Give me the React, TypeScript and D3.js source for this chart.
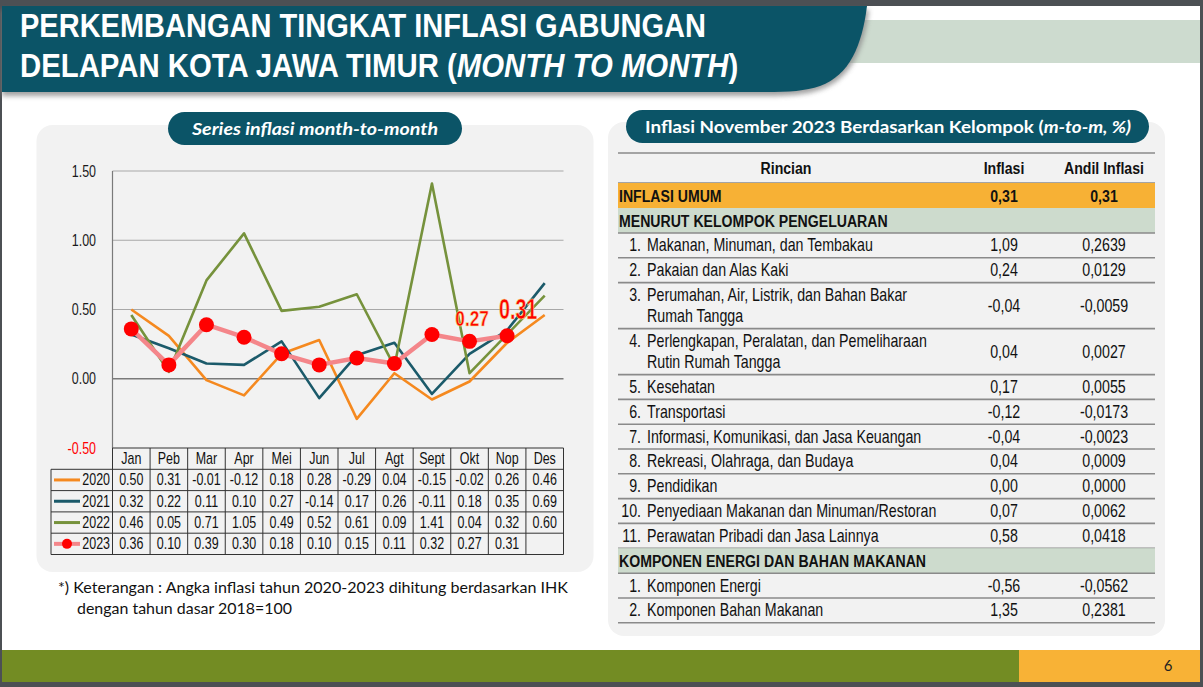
import * as d3 from 'd3';
import type { ReactNode } from 'react';

// ---- data ----
const months = ['Jan', 'Peb', 'Mar', 'Apr', 'Mei', 'Jun', 'Jul', 'Agt', 'Sept', 'Okt', 'Nop', 'Des'];
const years = ['2020', '2021', '2022', '2023'];
const infl2020 = [0.5, 0.31, -0.01, -0.12, 0.18, 0.28, -0.29, 0.04, -0.15, -0.02, 0.26, 0.46];
const infl2021 = [0.32, 0.22, 0.11, 0.1, 0.27, -0.14, 0.17, 0.26, -0.11, 0.18, 0.35, 0.69];
const infl2022 = [0.46, 0.05, 0.71, 1.05, 0.49, 0.52, 0.61, 0.09, 1.41, 0.04, 0.32, 0.6];
const infl2023 = [0.36, 0.1, 0.39, 0.3, 0.18, 0.1, 0.15, 0.11, 0.32, 0.27, 0.31];
const yTicks = [1.5, 1.0, 0.5, 0.0, -0.5];
const highlighted = [9, 10]; // Okt, Nop labels

const kelompokNo = ['1.', '2.', '3.', '4.', '5.', '6.', '7.', '8.', '9.', '10.', '11.'];
const kelompokLabel = [
  ['Makanan, Minuman, dan Tembakau'],
  ['Pakaian dan Alas Kaki'],
  ['Perumahan, Air, Listrik, dan Bahan Bakar', 'Rumah Tangga'],
  ['Perlengkapan, Peralatan, dan Pemeliharaan', 'Rutin Rumah Tangga'],
  ['Kesehatan'],
  ['Transportasi'],
  ['Informasi, Komunikasi, dan Jasa Keuangan'],
  ['Rekreasi, Olahraga, dan Budaya'],
  ['Pendidikan'],
  ['Penyediaan Makanan dan Minuman/Restoran'],
  ['Perawatan Pribadi dan Jasa Lainnya'],
];
const kelompokInflasi = ['1,09', '0,24', '-0,04', '0,04', '0,17', '-0,12', '-0,04', '0,04', '0,00', '0,07', '0,58'];
const kelompokAndil = ['0,2639', '0,0129', '-0,0059', '0,0027', '0,0055', '-0,0173', '-0,0023', '0,0009', '0,0000', '0,0062', '0,0418'];
const komponenNo = ['1.', '2.'];
const komponenLabel = [['Komponen Energi'], ['Komponen Bahan Makanan']];
const komponenInflasi = ['-0,56', '1,35'];
const komponenAndil = ['-0,0562', '0,2381'];
const umumInflasi = '0,31';
const umumAndil = '0,31';

// ---- styles ----
const ARIAL = '"Liberation Sans", Arial, sans-serif';
const CALIBRI = 'Lato, "Open Sans", sans-serif';
const TEAL = '#0b5467';
const seriesColor: Record<string, string> = {
  '2020': '#f5891f',
  '2021': '#1b5a6a',
  '2022': '#76923c',
  '2023': '#f4868a',
};
const seriesData: Record<string, number[]> = {
  '2020': infl2020,
  '2021': infl2021,
  '2022': infl2022,
  '2023': infl2023,
};

const f2 = d3.format('.2f');
const fmt = (v: number) => f2(v).replace('\u2212', '-');

// narrow text: Arial squeezed horizontally, like Arial Narrow
function NT(props: { x: number; y: number; anchor?: string; size?: number; bold?: boolean; fill?: string; sx?: number; children: ReactNode }) {
  const { x, y, anchor = 'start', size = 16, bold = false, fill = '#111', sx = 0.78 } = props;
  return (
    <text transform={`translate(${x},${y}) scale(${sx},1)`} textAnchor={anchor} fontFamily={ARIAL}
      fontSize={size} fontWeight={bold ? 'bold' : 'normal'} fill={fill}>
      {props.children}
    </text>
  );
}

function LineChart() {
  const x = d3.scaleBand<string>().domain(months).range([112.5, 563.5]);
  const y = d3.scaleLinear().domain([-0.5, 1.5]).range([448, 171]);
  const bw = x.bandwidth();
  const cx = (i: number) => (x(months[i]) as number) + bw / 2;
  const line = d3.line<number>().x((_, i) => cx(i)).y(d => y(d));

  const tableTop = 448;
  const rowH = 21.3;
  const tableLeft = 51;
  const rowY = (r: number) => tableTop + rowH * r;
  const labelDx = [2.5, 11];
  const labelDy = [-15, -17];
  const labelSize = [22, 29];
  const labelSx = [0.78, 0.68];

  return (
    <g>
      {/* gridlines */}
      {yTicks.slice(0, 4).map(t => (
        <line key={t} x1={x.range()[0]} x2={x.range()[1]} y1={y(t)} y2={y(t)}
          stroke={t === 0 ? '#7a7a7a' : '#a8a8a8'} strokeWidth={t === 0 ? 1.6 : 1.2} />
      ))}
      <line x1={112.5} x2={112.5} y1={y(1.5)} y2={tableTop} stroke="#7a7a7a" strokeWidth={1.2} />
      {yTicks.map(t => (
        <NT key={t} x={96} y={y(t) + 5.5} anchor="end" fill={t < 0 ? '#ff0000' : '#1a1a1a'}>{fmt(t)}</NT>
      ))}

      {/* series */}
      {years.map(yr => (
        <path key={yr} d={line(seriesData[yr]) || ''} fill="none" stroke={seriesColor[yr]}
          strokeWidth={yr === '2023' ? 4.5 : 2.6} strokeLinejoin="round" />
      ))}
      {infl2023.map((v, i) => (
        <circle key={i} cx={cx(i)} cy={y(v)} r={7.5} fill="#ff0000" />
      ))}
      {highlighted.map((i, k) => (
        <text key={i} transform={`translate(${cx(i) + labelDx[k]},${y(infl2023[i]) + labelDy[k]}) scale(${labelSx[k]},1)`}
          textAnchor="middle" fontFamily={ARIAL} fontWeight="bold"
          fontSize={labelSize[k]} fill="#ff0000" stroke="#f6e08a" strokeWidth={0.6}>
          {fmt(infl2023[i])}
        </text>
      ))}

      {/* data table */}
      <g stroke="#333" strokeWidth={1}>
        <line x1={112.5} x2={563.5} y1={rowY(0)} y2={rowY(0)} />
        {d3.range(1, 6).map(r => (
          <line key={r} x1={tableLeft} x2={563.5} y1={rowY(r)} y2={rowY(r)} />
        ))}
        <line x1={tableLeft} x2={tableLeft} y1={rowY(1)} y2={rowY(5)} />
        {months.map(m => (
          <line key={m} x1={x(m) as number} x2={x(m) as number} y1={rowY(0)} y2={rowY(5)} />
        ))}
        <line x1={563.5} x2={563.5} y1={rowY(0)} y2={rowY(5)} />
      </g>
      {months.map((m, i) => (
        <NT key={m} x={cx(i)} y={rowY(0) + rowH / 2 + 5.5} anchor="middle">{m}</NT>
      ))}
      {years.map((yr, r) => {
        const ym = rowY(r + 1) + rowH / 2;
        return (
          <g key={yr}>
            <line x1={54} x2={80} y1={ym} y2={ym} stroke={seriesColor[yr]} strokeWidth={yr === '2023' ? 4 : 3} />
            {yr === '2023' && <circle cx={67} cy={ym} r={5} fill="#ff0000" />}
            <NT x={110} y={ym + 5.5} anchor="end">{yr}</NT>
            {seriesData[yr].map((v, i) => (
              <NT key={i} x={cx(i)} y={ym + 5.5} anchor="middle">{fmt(v)}</NT>
            ))}
          </g>
        );
      })}
    </g>
  );
}

type TRow = { kind: 'head' | 'umum' | 'section' | 'item'; no?: string; lines: string[]; infl?: string; andil?: string };

function KelompokTable() {
  const rows: TRow[] = [
    { kind: 'head', lines: ['Rincian'], infl: 'Inflasi', andil: 'Andil Inflasi' },
    { kind: 'umum', lines: ['INFLASI UMUM'], infl: umumInflasi, andil: umumAndil },
    { kind: 'section', lines: ['MENURUT KELOMPOK PENGELUARAN'] },
    ...kelompokLabel.map((l, i) => ({ kind: 'item' as const, no: kelompokNo[i], lines: l, infl: kelompokInflasi[i], andil: kelompokAndil[i] })),
    { kind: 'section', lines: ['KOMPONEN ENERGI DAN BAHAN MAKANAN'] },
    ...komponenLabel.map((l, i) => ({ kind: 'item' as const, no: komponenNo[i], lines: l, infl: komponenInflasi[i], andil: komponenAndil[i] })),
  ];
  const left = 618;
  const right = 1155;
  const colInfl = 1004;
  const colAndil = 1104;
  const heights = rows.map(r => (r.kind === 'head' ? 30 : r.kind === 'umum' ? 25 : r.kind === 'section' ? 25 : r.lines.length > 1 ? 46 : 24.8));
  let yy = 153;
  const tops = heights.map(h => { const t = yy; yy += h; return t; });
  const fs = 18;
  const sxN = 0.79;
  const sxB = 0.83;

  return (
    <g>
      {rows.map((r, i) => {
        const top = tops[i];
        const h = heights[i];
        const mid = top + h / 2;
        const bold = r.kind !== 'item';
        const dbl = r.lines.length > 1;
        return (
          <g key={i}>
            {r.kind === 'umum' && <rect x={left} y={top} width={right - left} height={h} fill="#f7b135" />}
            {r.kind === 'section' && <rect x={left} y={top} width={right - left} height={h} fill="#cddbcd" />}
            {r.kind === 'head' && <NT x={786} y={mid + 6} anchor="middle" size={17} bold sx={sxB}>{r.lines[0]}</NT>}
            {(r.kind === 'umum' || r.kind === 'section') && (
              <NT x={left + 1} y={mid + 6} size={17} bold sx={sxB}>{r.lines[0]}</NT>
            )}
            {r.kind === 'item' && (
              <>
                <NT x={641} y={mid + (dbl ? -10.5 : 0) + 6} anchor="end" size={fs} sx={sxN}>{r.no}</NT>
                {r.lines.map((l, k) => (
                  <NT key={k} x={647} y={mid + (dbl ? (k === 0 ? -10.5 : 10.5) : 0) + 6} size={fs} sx={sxN}>{l}</NT>
                ))}
              </>
            )}
            {r.infl && (
              <NT x={colInfl} y={mid + 6} anchor="middle" size={bold ? 17 : fs} bold={bold} sx={bold ? sxB : sxN}>{r.infl}</NT>
            )}
            {r.andil && (
              <NT x={colAndil} y={mid + 6} anchor="middle" size={bold ? 17 : fs} bold={bold} sx={bold ? sxB : sxN}>{r.andil}</NT>
            )}
            {(r.kind === 'item' || r.kind === 'head' || r.kind === 'section') && (
              <line x1={left} x2={right} y1={top + h} y2={top + h} stroke="#8a8a8a" strokeWidth={1.6} />
            )}
          </g>
        );
      })}
      <line x1={left} x2={right} y1={153} y2={153} stroke="#8a8a8a" strokeWidth={1.6} />
    </g>
  );
}

export default function App() {
  const W = 1203;
  const H = 687;
  return (
    <svg width={W} height={H} style={{ position: 'absolute', left: 0, top: 0 }}>
      <defs>
        <filter id="sh" x="-5%" y="-20%" width="110%" height="150%">
          <feGaussianBlur stdDeviation="2.5" />
        </filter>
      </defs>
      <rect width={W} height={H} fill="#4c5054" />
      <rect x={2} y={6} width={1198} height={676} fill="#ffffff" />

      {/* header */}
      <rect x={835} y={20} width={365} height={43} fill="#cddbcf" />
      <path d="M2,10 L869,10 C864,48 852,78 822,89 C806,95 790,96 765,96 L2,96 Z" fill="#8a8a8a" filter="url(#sh)" opacity={0.8} />
      <path d="M2,6 L867,6 C862,45 850,75 820,86 C805,91 790,92 765,92 L2,92 Z" fill={TEAL} />
      <text transform="translate(20,37) scale(0.866,1)" fontFamily={ARIAL} fontSize={33.5} fontWeight="bold" fill="#fff">
        PERKEMBANGAN TINGKAT INFLASI GABUNGAN
      </text>
      <text transform="translate(20,77) scale(0.876,1)" fontFamily={ARIAL} fontSize={33.5} fontWeight="bold" fill="#fff">
        DELAPAN KOTA JAWA TIMUR (<tspan fontStyle="italic">MONTH TO MONTH</tspan>)
      </text>

      {/* left panel */}
      <rect x={36.5} y={125} width={557} height={447} rx={16} fill="#f2f2f2" />
      <rect x={168} y={112} width={294} height={33} rx={16.5} fill={TEAL} />
      <text x={315} y={135} textAnchor="middle" fontFamily={CALIBRI} fontWeight="bold" fontStyle="italic" fontSize={17}
        fill="#fff" textLength={246} lengthAdjust="spacingAndGlyphs">Series inflasi month-to-month</text>
      <LineChart />
      <text x={58} y={593} fontFamily={CALIBRI} fontSize={16} fill="#111" textLength={510} lengthAdjust="spacingAndGlyphs">
        *) Keterangan : Angka inflasi tahun 2020-2023 dihitung berdasarkan IHK
      </text>
      <text x={77} y={614} fontFamily={CALIBRI} fontSize={16} fill="#111" textLength={215} lengthAdjust="spacingAndGlyphs">
        dengan tahun dasar 2018=100
      </text>

      {/* right panel */}
      <rect x={608} y={122} width={557} height={514} rx={16} fill="#f2f2f2" />
      <rect x={626} y={110} width={523} height={33} rx={16.5} fill={TEAL} />
      <text x={645} y={133} fontFamily={CALIBRI} fontWeight="bold" fontSize={17} fill="#fff" textLength={486} lengthAdjust="spacingAndGlyphs">
        Inflasi November 2023 Berdasarkan Kelompok (<tspan fontStyle="italic">m-to-m, %)</tspan>
      </text>
      <KelompokTable />

      {/* footer */}
      <rect x={2} y={650} width={1017} height={32} fill="#738c23" />
      <rect x={1019} y={650} width={181} height={32} fill="#f8b236" />
      <text x={1168} y={671} textAnchor="middle" fontFamily={CALIBRI} fontSize={15} fill="#222">6</text>
    </svg>
  );
}
